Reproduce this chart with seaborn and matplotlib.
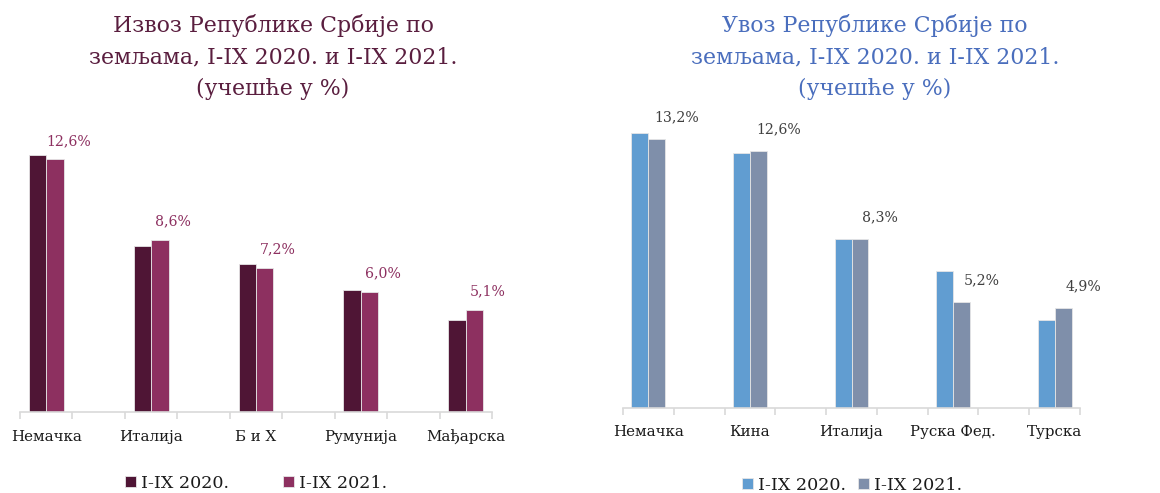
import matplotlib
matplotlib.use("Agg")
import matplotlib.pyplot as plt
import seaborn as sns
import pandas as pd
from matplotlib.ticker import FixedLocator, NullFormatter

# Shares (%) of total trade by partner country
periods = ["I-IX 2020.", "I-IX 2021."]

export_countries = ["Немачка", "Италија", "Б и Х", "Румунија", "Мађарска"]
export_2020 = [12.8, 8.3, 7.4, 6.1, 4.6]
export_2021 = [12.6, 8.6, 7.2, 6.0, 5.1]

import_countries = ["Немачка", "Кина", "Италија", "Руска Фед.", "Турска"]
import_2020 = [13.5, 12.5, 8.3, 6.7, 4.3]
import_2021 = [13.2, 12.6, 8.3, 5.2, 4.9]

export_title = "Извоз Републике Србије по\nземљама, I-IX 2020. и I-IX 2021.\n(учешће у %)"
import_title = "Увоз Републике Србије по\nземљама, I-IX 2020. и I-IX 2021.\n(учешће у %)"

sns.set_style("white")
plt.rcParams["font.family"] = ["DejaVu Serif"]

W, H = 1160, 493
fig = plt.figure(figsize=(W / 100, H / 100), dpi=100)


def long_frame(countries, v2020, v2021):
    rows = []
    for c, a, b in zip(countries, v2020, v2021):
        rows.append({"country": c, "period": periods[0], "share": a})
        rows.append({"country": c, "period": periods[1], "share": b})
    return pd.DataFrame(rows)


def panel(rect, countries, v2020, v2021, colors, title, title_color, title_x,
          label_color, label_dx, label_dy, legend_x, legend_y, colspacing, tick_pad):
    ax = fig.add_axes(rect)
    df = long_frame(countries, v2020, v2021)
    # empty slots between countries keep the wide spacing of the groups
    order = []
    for i, c in enumerate(countries):
        order.append(c)
        if i < len(countries) - 1:
            order.append(" " * (i + 1))
    sns.barplot(data=df, x="country", y="share", hue="period", order=order,
                hue_order=periods, palette=colors, saturation=1, width=0.667,
                gap=0, edgecolor="#e6e6e6", linewidth=0.6, ax=ax)
    ax.set_xlim(-0.5, len(order) - 0.5)
    ax.set_ylim(0, 14)
    ax.set_xlabel("")
    ax.set_ylabel("")
    ax.set_yticks([])
    for s in ["top", "right", "left"]:
        ax.spines[s].set_visible(False)
    ax.spines["bottom"].set_color("#d9d9d9")
    ax.spines["bottom"].set_linewidth(1.2)

    centers = [order.index(c) for c in countries]
    ax.xaxis.set_major_locator(FixedLocator(centers))
    ax.set_xticklabels(countries, fontsize=10.8, color="#1a1a1a")
    ax.tick_params(axis="x", which="major", bottom=True, length=0, pad=tick_pad)
    ax.xaxis.set_minor_locator(FixedLocator([i - 0.5 for i in range(len(order) + 1)]))
    ax.xaxis.set_minor_formatter(NullFormatter())
    ax.tick_params(axis="x", which="minor", bottom=True, length=5, width=1.2,
                   color="#d9d9d9", direction="out")

    # value labels for the latest period
    for bar, val in zip(ax.containers[1], v2021):
        xc = bar.get_x() + bar.get_width() / 2
        ax.annotate(f"{val:.1f}%".replace(".", ","), xy=(xc, val),
                    xytext=(label_dx, label_dy), textcoords="offset points",
                    ha="center", va="center", fontsize=10.2, color=label_color)

    handles, labels = ax.get_legend_handles_labels()
    ax.legend(handles, labels, loc="center", ncol=2, frameon=False,
              bbox_to_anchor=(legend_x / W, 1 - legend_y / H),
              bbox_transform=fig.transFigure, fontsize=12.6,
              handlelength=0.6, handleheight=0.6, handletextpad=0.3,
              columnspacing=colspacing, labelcolor="#1a1a1a")

    fig.text(title_x / W, 1 - 57 / H, title, ha="center", va="center",
             fontsize=15.8, color=title_color, linespacing=1.55,
             multialignment="center")
    return ax


panel([20 / W, 81 / H, 472 / W, 14 * 20.05 / H],
      export_countries, export_2020, export_2021,
      ["#4f1535", "#8d3060"], export_title, "#5a1e3f", 273,
      "#8d3060", 9.7, 13, 256, 483, 3.1, 13)

panel([623 / W, 85 / H, 457 / W, 14 * 20.38 / H],
      import_countries, import_2020, import_2021,
      ["#619dd1", "#7f8faa"], import_title, "#4a6ebd", 875,
      "#404040", 14.4, 15.8, 852, 485, 0.7, 12)

fig.savefig("out.png", dpi=100)
